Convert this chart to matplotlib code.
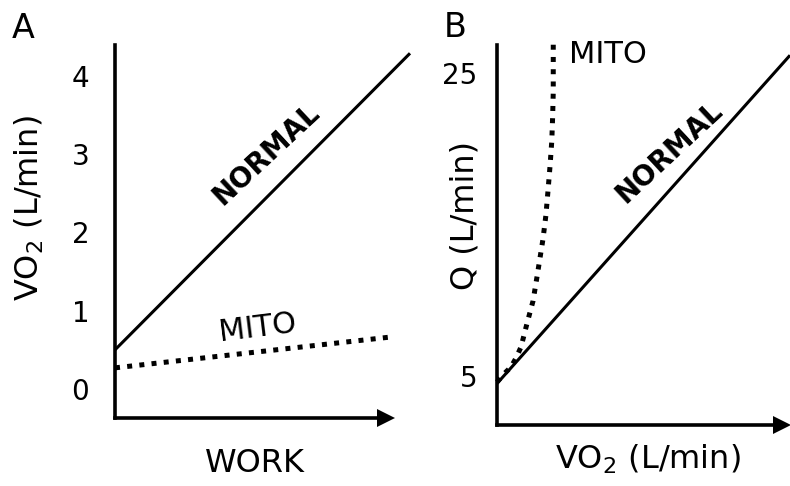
import matplotlib
matplotlib.use('Agg')
import matplotlib.pyplot as plt

# ---------------- panel A : VO2 vs work ----------------
work_normal = [0, 1]
vo2_normal = [0.5, 4.29]
work_mito = [0, 0.925]
vo2_mito = [0.27, 0.66]
a_ticks = [0, 1, 2, 3, 4]

# ---------------- panel B : Q vs VO2 ----------------
vo2_b_normal = [0, 1]
q_normal = [4.5, 26.2]
vo2_b_mito = [0, 0.027, 0.048, 0.065, 0.082, 0.102, 0.123, 0.137, 0.150,
              0.157, 0.167, 0.174, 0.181, 0.187, 0.190, 0.192, 0.192, 0.192]
q_mito = [4.6, 5.2, 5.6, 6.19, 6.92, 8.44, 9.96, 11.61, 13.2,
          14.06, 15.64, 17.23, 18.88, 20.54, 22.19, 23.8, 25.45, 27.2]
b_ticks = [5, 25]

W, H = 790, 486


def fx(px):
    return px / W


def fy(py):
    return 1 - py / H


plt.rcParams['font.family'] = 'DejaVu Sans'
fig = plt.figure(figsize=(W / 100, H / 100), dpi=100)

LW = 2.2
SPINE = 2.6
DOT = (0, (1.0, 1.45))


def style_axes(ax, arrow_x, pad):
    ax.set_xlim(0, 1)
    for s in ['top', 'right']:
        ax.spines[s].set_visible(False)
    ax.spines['left'].set_linewidth(SPINE)
    ax.spines['bottom'].set_linewidth(SPINE)
    ax.spines['bottom'].set_bounds(0, arrow_x)
    ax.set_xticks([])
    ax.tick_params(axis='y', length=0, pad=pad, labelsize=20)
    ax.plot([arrow_x], [ax.get_ylim()[0]], marker='>', ms=13, color='k',
            mew=0, clip_on=False)
    ax.patch.set_visible(False)


# panel A
axA = fig.add_axes([fx(115), fy(418), (410 - 115) / W, (418 - 45) / H])
axA.set_ylim(-0.371, 4.396)
axA.set_yticks(a_ticks)
axA.plot(work_normal, vo2_normal, color='k', lw=LW, clip_on=False,
         solid_capstyle='butt')
axA.plot(work_mito, vo2_mito, color='k', lw=3.6, linestyle=DOT, clip_on=False)
style_axes(axA, 0.919, 18.5)

# panel B
axB = fig.add_axes([fx(497), fy(425), (790 - 497) / W, (425 - 45) / H])
axB.set_ylim(1.76, 26.88)
axB.set_yticks(b_ticks)
axB.plot(vo2_b_normal, q_normal, color='k', lw=LW, clip_on=False,
         solid_capstyle='butt')
axB.plot(vo2_b_mito, q_mito, color='k', lw=3.6, linestyle=DOT, clip_on=False)
style_axes(axB, 0.973, 14.4)

# axis labels
fig.text(fx(39), fy(208), 'VO$_2$ (L/min)', rotation=90, rotation_mode='anchor',
         ha='center', va='baseline', fontsize=23)
fig.text(fx(255), fy(472), 'WORK', ha='center', va='baseline', fontsize=23)
fig.text(fx(474), fy(215), 'Q (L/min)', rotation=90, rotation_mode='anchor',
         ha='center', va='baseline', fontsize=23)
fig.text(fx(648), fy(469), 'VO$_2$ (L/min)', ha='center', va='baseline',
         fontsize=23)

# panel letters
fig.text(fx(12), fy(12), 'A', ha='left', va='top', fontsize=24)
fig.text(fx(444), fy(11), 'B', ha='left', va='top', fontsize=24)

# line labels
fig.text(fx(266), fy(154), 'NORMAL', rotation=43, ha='center', va='center',
         fontsize=20, fontweight='bold')
fig.text(fx(258), fy(328), 'MITO', rotation=7, ha='center', va='center',
         fontsize=22)
fig.text(fx(669), fy(152), 'NORMAL', rotation=43, ha='center', va='center',
         fontsize=20, fontweight='bold')
fig.text(fx(569), fy(63), 'MITO', ha='left', va='baseline', fontsize=22)

fig.savefig('out.png', dpi=100)
